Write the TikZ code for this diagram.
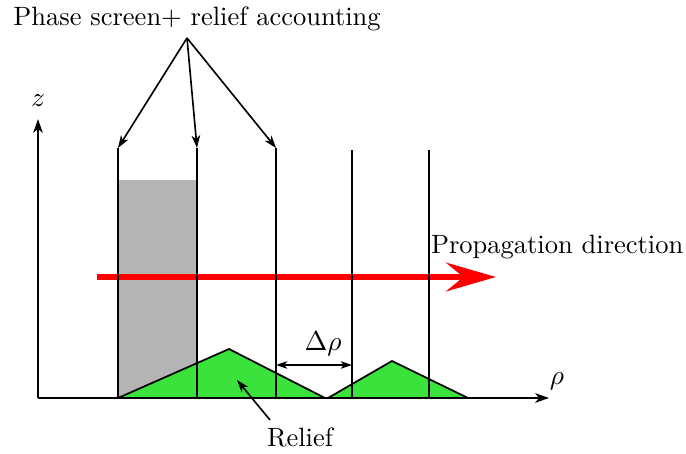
\documentclass[tikz,border=0pt]{standalone}
\usepackage{amsmath,amssymb}
\usepackage{xcolor}
\usepackage{tikz}
\usetikzlibrary{arrows.meta,positioning}

\definecolor{reliefgreen}{RGB}{60,226,60}
\definecolor{screengray}{RGB}{180,180,180}

\begin{document}
\begin{tikzpicture}[
    x=0.4pt, y=-0.4pt,
    axis/.style={-{Stealth[length=5.5pt,width=3.8pt,inset=1.5pt]}, line width=0.8pt},
    pointer/.style={-{Stealth[length=5pt,width=3.4pt,inset=1.4pt]}, line width=0.65pt},
    screen/.style={line width=0.7pt},
    relief/.style={fill=reliefgreen, draw, line width=0.7pt},
    label/.style={inner sep=1pt, font=\fontsize{10.6}{12}\selectfont}
]
\useasboundingbox (0,0) rectangle (686,453);

% phase screens
\foreach \x [count=\i] in {118,197,276} {
  \coordinate (s\i) at (\x,148);
  \coordinate (b\i) at (\x,398);
}
\foreach \x [count=\i from 4] in {352,429} {
  \coordinate (s\i) at (\x,150);
  \coordinate (b\i) at (\x,398);
}
\coordinate (origin) at (38,398);

% shaded first step
\fill[screengray] (118,180) rectangle (197,398);

% propagation
\coordinate (pstart) at (97,277);
\coordinate (pend) at (496,277);
\draw[red, line width=2.4pt, -{Stealth[length=20pt,width=11.5pt,inset=7pt]}] (pstart) -- (pend);
\node[label, anchor=south west] (prop) at (428,262) {Propagation direction};

% relief
\filldraw[relief] (118,398) -- (229,349) -- (325,398);
\filldraw[relief] (328,398) -- (392,361) -- (468,398);

\foreach \i in {1,...,5}
  \draw[screen] (s\i) -- (b\i);

% axes
\draw[axis] (origin) -- (38,119) coordinate (ztip);
\draw[axis] (origin) -- (549,398) coordinate (rtip);
\node[label] (zlab) at (38,101) {$z$};
\node[label] (rlab) at (557,381) {$\rho$};

% step size
\coordinate (d1) at (276,365);
\coordinate (d2) at (352,365);
\draw[{Stealth[length=4.5pt,width=3pt,inset=1.2pt]}-{Stealth[length=4.5pt,width=3pt,inset=1.2pt]}, line width=0.65pt] (d1) -- (d2);
\node[label] (dlab) at (323,344) {$\Delta\rho$};

% labels
\node[label] (title) at (197,19) {Phase screen+ relief accounting};
\coordinate (hub) at (187,38);
\foreach \i in {1,2,3}
  \draw[pointer] (hub) -- (s\i);

\node[label] (rel) at (300,437) {Relief};
\coordinate (rtail) at (270,420);
\draw[pointer] (rtail) -- (237,380);
\end{tikzpicture}
\end{document}
